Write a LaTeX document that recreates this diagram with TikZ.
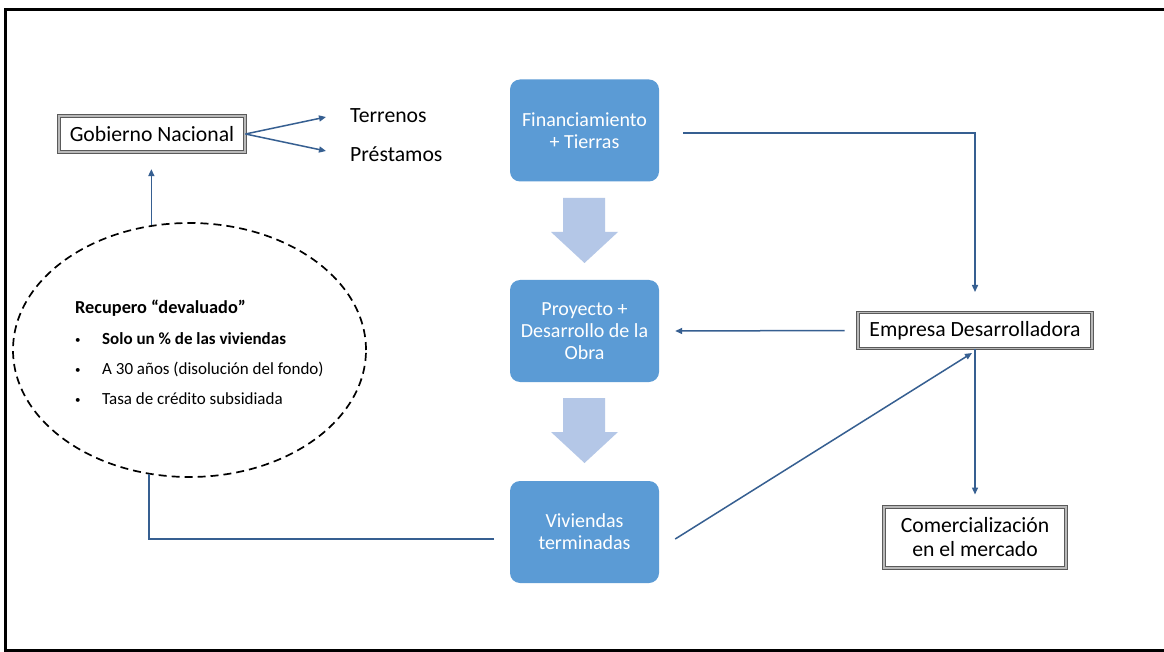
\documentclass[tikz,border=0pt]{standalone}
\usepackage{fontspec}
\setmainfont{Carlito}
\usetikzlibrary{shapes.geometric,arrows.meta}
\definecolor{boxblue}{HTML}{5B9BD5}
\definecolor{flowblue}{HTML}{B4C7E7}
\definecolor{linkblue}{HTML}{365F91}
\definecolor{framegray}{HTML}{5A5A5A}
\tikzset{
  bluebox/.style={fill=boxblue, rounded corners=10pt, minimum width=149pt,
    minimum height=102pt, align=center, text=white, inner sep=2pt,
    font=\fontsize{20}{22}\selectfont},
  dbox/.style={draw=framegray, double=gray!55, double distance=1.2pt, line width=1pt,
    fill=white, align=center, inner sep=2pt, font=\fontsize{21.7}{24}\selectfont},
  conn/.style={draw=linkblue, line width=1.5pt},
  arr/.style={conn, -{Triangle[length=7pt,width=6pt]}},
  plain/.style={inner sep=0pt, anchor=base west, font=\fontsize{21.7}{24}\selectfont},
  bul/.style={inner sep=0pt, anchor=base west, font=\fontsize{17}{20}\selectfont},
  dot/.style={inner sep=0pt, anchor=base west, font=\fontsize{11}{12}\selectfont},
  bigarrow/.style={fill=flowblue}
}
\begin{document}
\begin{tikzpicture}[x=1pt,y=-1pt]
\useasboundingbox (0,0) rectangle (1164,652);
\clip (0,0) rectangle (1164,652);
\fill[white] (0,0) rectangle (1164,652);

% outer frame (open on the right)
\draw[line width=3pt] (1180,10) -- (5.5,10) -- (5.5,650) -- (1180,650);

% central flow
\node[bluebox] (fin) at (584.5,130.5) {Financiamiento\\+ Tierras};
\node[bluebox] (pro) at (584.5,331) {Proyecto +\\Desarrollo de la\\Obra};
\node[bluebox] (viv) at (584.5,532) {Viviendas\\terminadas};

\fill[bigarrow] (563,198) -- (605,198) -- (605,232) -- (618,232) -- (584.5,263)
  -- (551,232) -- (563,232) -- cycle;
\fill[bigarrow] (563,398) -- (605,398) -- (605,432) -- (618,432) -- (584.5,463)
  -- (551,432) -- (563,432) -- cycle;

% boxed actors
\node[dbox, minimum width=186pt, minimum height=36pt] (gob) at (152,134) {Gobierno Nacional};
\node[dbox, minimum width=234pt, minimum height=36pt] (emp) at (975,330.5) {Empresa Desarrolladora};
\node[dbox, minimum width=182pt, minimum height=61pt] (com) at (975,537.5) {Comercialización\\en el mercado};

% what the government contributes
\node[plain] (ter) at (350,123) {Terrenos};
\node[plain] (pre) at (350,162) {Préstamos};
\coordinate (terin) at (326,117);
\coordinate (prein) at (326,151);
\draw[arr] (gob.east) -- (terin);
\draw[arr] (gob.east) -- (prein);

% devalued recovery
\node[draw, dashed, ellipse, line width=1.7pt, dash pattern=on 8pt off 5pt,
  minimum width=353pt, minimum height=254pt, inner sep=0pt] (ell) at (189.5,350) {};
\node[bul, font=\fontsize{18.3}{22}\bfseries\selectfont] (rtitle) at (75,313) {Recupero “devaluado”};
\node[dot] (b1) at (75,343) {•};
\node[bul, font=\fontsize{17}{20}\bfseries\selectfont] (t1) at (102,344) {Solo un \% de las viviendas};
\node[dot] (b2) at (75,373) {•};
\node[bul] (t2) at (102,374) {A 30 años (disolución del fondo)};
\node[dot] (b3) at (75,403) {•};
\node[bul] (t3) at (102,404) {Tasa de crédito subsidiada};

% connectors
\coordinate (vivout) at (494,539);
\draw[conn] (vivout) -| (ell.252.7);
\draw[arr] (ell.107.3) -- ++(0,-56);
\draw[arr] ([xshift=24pt,yshift=-2.5pt]fin.east) -| ([yshift=20pt]emp.north);
\draw[arr] ([xshift=-13pt]emp.west) -- ([xshift=16pt]pro.east);
\draw[arr] ([xshift=16pt,yshift=-7pt]viv.east) -- ([xshift=-3pt,yshift=-4pt]emp.south);
\draw[arr] (emp.south) -- ([yshift=12pt]com.north);
\end{tikzpicture}
\end{document}
